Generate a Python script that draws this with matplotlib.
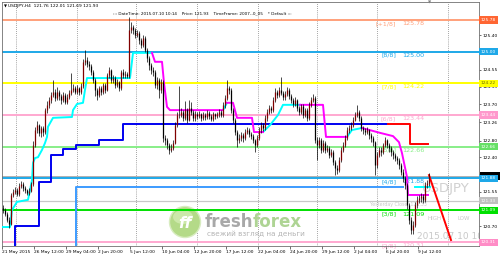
import matplotlib
matplotlib.use("Agg")
import matplotlib.pyplot as plt
import matplotlib.transforms as mtransforms
from matplotlib.patches import Ellipse, Rectangle
import numpy as np

# ---- price data (USDJPY H4) ----
first_open = 121.15
closes = [
    121.10, 121.00, 120.86, 120.75, 121.47, 121.54, 121.59, 121.49, 121.69, 121.74,
    121.64, 121.59, 121.52, 121.57, 121.74, 122.70, 123.07, 123.19, 123.00, 123.12,
    123.02, 123.56, 123.69, 123.81, 123.93, 124.01, 123.86, 124.01, 123.91, 123.81,
    123.93, 123.76, 123.88, 123.98, 124.06, 124.10, 124.01, 124.10, 124.01, 124.15,
    124.74, 124.79, 124.69, 124.65, 124.50, 124.30, 124.06, 123.93, 124.10, 124.01,
    124.18, 124.06, 124.42, 124.55, 124.30, 124.35, 124.18, 124.25, 124.10, 124.50,
    124.42, 124.45, 124.40, 125.53, 125.61, 125.53, 125.41, 125.46, 125.29, 125.17,
    125.34, 125.04, 124.84, 124.67, 124.55, 124.50, 124.18, 124.30, 124.06, 124.25,
    122.87, 122.82, 122.70, 122.58, 122.63, 122.75, 123.19, 123.44, 123.44, 123.51,
    123.37, 123.56, 123.32, 123.61, 123.51, 123.37, 123.46, 123.41, 123.46, 123.37,
    123.44, 123.39, 123.49, 123.41, 123.34, 123.46, 123.41, 123.46, 123.51, 123.44,
    123.69, 123.86, 124.10, 124.06, 123.56, 123.32, 123.02, 122.82, 122.87, 122.95,
    122.87, 123.02, 123.07, 122.97, 122.92, 122.82, 122.70, 122.87, 123.07, 123.19,
    123.12, 123.37, 123.51, 123.61, 123.56, 123.81, 124.01, 123.93, 124.06, 123.98,
    123.88, 123.96, 124.06, 123.91, 123.81, 123.71, 123.81, 123.61, 123.51, 123.66,
    123.44, 123.56, 123.37, 123.69, 123.81, 123.86, 122.82, 122.70, 122.82, 122.58,
    122.75, 122.58, 122.63, 122.45, 122.53, 122.28, 122.14, 122.09, 122.33, 122.58,
    122.70, 122.87, 123.07, 123.12, 123.19, 123.32, 123.44, 123.51, 123.37, 123.12,
    123.07, 123.02, 123.07, 122.95, 122.87, 122.77, 122.21, 122.45, 122.58, 122.53,
    122.70, 122.82, 122.70, 122.63, 122.53, 122.45, 122.38, 122.33, 122.21, 122.04,
    121.89, 121.71, 121.22, 120.86, 120.61, 120.73, 121.22, 121.35, 121.39, 121.44,
    121.35, 121.71, 121.76, 121.93]
highs = [
    121.22, 121.14, 121.05, 120.92, 121.52, 121.62, 121.66, 121.64, 121.76, 121.82,
    121.78, 121.68, 121.62, 121.63, 121.80, 122.80, 123.15, 123.28, 123.22, 123.18,
    123.16, 123.62, 123.78, 123.88, 124.00, 124.30, 124.08, 124.12, 124.06, 123.95,
    124.00, 123.98, 123.95, 124.05, 124.47, 124.20, 124.15, 124.18, 124.14, 124.24,
    124.82, 125.04, 124.86, 124.76, 124.70, 124.55, 124.35, 124.10, 124.16, 124.15,
    124.24, 124.22, 124.48, 124.62, 124.58, 124.42, 124.40, 124.32, 124.28, 124.56,
    124.58, 124.52, 124.50, 125.85, 125.72, 125.66, 125.58, 125.54, 125.50, 125.33,
    125.40, 125.38, 125.08, 124.90, 124.72, 124.62, 124.54, 124.38, 124.34, 124.32,
    124.30, 122.95, 122.88, 122.76, 122.72, 122.82, 123.26, 123.52, 124.15, 123.60,
    123.56, 123.78, 123.62, 123.80, 123.76, 123.56, 123.54, 123.52, 123.54, 123.50,
    123.52, 123.50, 123.56, 123.54, 123.46, 123.52, 123.50, 123.52, 123.58, 123.56,
    123.75, 123.94, 124.30, 124.16, 124.10, 123.60, 123.36, 123.08, 122.96, 123.02,
    123.00, 123.10, 123.14, 123.12, 123.02, 122.96, 122.86, 122.94, 123.14, 123.26,
    123.24, 123.44, 123.58, 123.68, 123.66, 123.88, 124.10, 124.06, 124.14, 124.37,
    124.02, 124.02, 124.12, 124.10, 123.95, 123.85, 123.88, 123.84, 123.66, 123.72,
    123.70, 123.62, 123.60, 123.76, 123.88, 123.96, 123.90, 122.90, 122.90, 122.88,
    122.82, 122.80, 122.70, 122.68, 122.60, 122.58, 122.32, 122.20, 122.40, 122.64,
    122.78, 122.94, 123.14, 123.20, 123.26, 123.40, 123.52, 123.69, 123.56, 123.42,
    123.18, 123.12, 123.14, 123.10, 123.00, 122.92, 122.80, 122.52, 122.66, 122.66,
    122.76, 122.90, 122.86, 122.76, 122.68, 122.58, 122.50, 122.44, 122.38, 122.26,
    122.10, 121.94, 121.76, 121.28, 120.92, 120.84, 121.30, 121.44, 121.48, 121.52,
    121.50, 121.78, 121.84, 122.01]
lows = [
    121.02, 120.94, 120.80, 120.66, 120.72, 121.42, 121.50, 121.44, 121.45, 121.65,
    121.58, 121.52, 121.46, 121.48, 121.54, 121.70, 122.66, 123.00, 122.92, 122.90,
    122.93, 122.98, 123.50, 123.62, 123.74, 123.88, 123.78, 123.80, 123.80, 123.72,
    123.76, 123.70, 123.72, 123.84, 123.94, 124.00, 123.95, 123.96, 123.92, 123.96,
    124.10, 124.68, 124.62, 124.56, 124.42, 124.22, 123.90, 123.81, 123.88, 123.92,
    123.95, 123.98, 124.02, 124.36, 124.24, 124.22, 124.10, 124.12, 124.02, 124.06,
    124.36, 124.36, 124.34, 124.36, 125.46, 125.44, 125.34, 125.36, 125.20, 125.08,
    125.12, 124.98, 124.74, 124.56, 124.46, 124.40, 124.10, 124.08, 123.86, 123.98,
    122.78, 122.70, 122.60, 122.48, 122.52, 122.58, 122.72, 123.14, 123.36, 123.38,
    123.28, 123.32, 123.24, 123.28, 123.44, 123.28, 123.30, 123.34, 123.36, 123.30,
    123.32, 123.32, 123.34, 123.35, 123.28, 123.30, 123.35, 123.36, 123.40, 123.38,
    123.40, 123.62, 123.80, 123.95, 123.48, 123.24, 122.94, 122.65, 122.76, 122.80,
    122.78, 122.82, 122.96, 122.90, 122.84, 122.74, 122.53, 122.64, 122.82, 123.00,
    123.04, 123.08, 123.30, 123.46, 123.48, 123.52, 123.76, 123.86, 123.88, 123.92,
    123.80, 123.82, 123.90, 123.84, 123.74, 123.64, 123.66, 123.54, 123.44, 123.46,
    123.36, 123.38, 123.28, 123.32, 123.64, 123.76, 122.74, 122.33, 122.62, 122.50,
    122.52, 122.50, 122.52, 122.38, 122.40, 122.20, 121.96, 121.98, 122.04, 122.28,
    122.52, 122.64, 122.82, 123.00, 123.06, 123.14, 123.28, 123.38, 123.30, 123.04,
    122.98, 122.94, 122.96, 122.86, 122.78, 122.68, 121.96, 122.14, 122.40, 122.44,
    122.48, 122.64, 122.62, 122.54, 122.44, 122.36, 122.30, 122.24, 122.12, 121.96,
    121.80, 121.62, 121.12, 120.76, 120.50, 120.52, 120.68, 121.16, 121.28, 121.30,
    121.26, 121.30, 121.64, 121.69]

time_labels = ["21 May 2015", "26 May 12:00", "29 May 04:00", "2 Jun 20:00",
               "5 Jun 12:00", "10 Jun 04:00", "12 Jun 20:00", "17 Jun 12:00",
               "22 Jun 04:00", "24 Jun 20:00", "29 Jun 12:00", "2 Jul 04:00",
               "6 Jul 20:00", "9 Jul 12:00"]
label_bars = [-0.5, 15.5, 31.5, 47.5, 63.5, 79.5, 95.5, 111.5,
              127.5, 143.5, 159.5, 175.5, 191.5, 207.5]
week_bars = [6.5, 37, 66.5, 97, 127.5, 157, 187, 222.5]

# tick values; 124.97 and 121.98 sit under price boxes, so they get no text
price_ticks = [125.40, 124.97, 124.55, 124.13, 123.70, 123.26, 122.80,
               122.40, 121.98, 121.55, 121.13, 120.70]
hidden_ticks = [124.97, 121.98]

# murrey math levels
levels = [125.78, 125.00, 124.22, 123.44, 122.66, 121.88, 121.09, 120.31]
level_names = ["[+1/8]", "[8/8]", "[7/8]", "[6/8]", "[5/8]", "[4/8]", "[3/8]", "[2/8]"]
level_colors = ["#FFA07A", "#1EA8E8", "#FFFF00", "#FFA8D0",
                "#88EE88", "#1EA8E8", "#00E000", "#FFA8D0"]

yesterday_close = 121.33
bid = 121.93

# step indicators
blue_x = [6, 6, 18, 24, 30, 36.5, 48, 60, 192.5]
blue_y = [120.0, 120.71, 121.79, 122.46, 122.60, 122.70, 122.82, 123.22, 123.22]
red_x = [192.5, 203.5, 212.5]
red_y = [123.22, 122.72, 122.72]
lblue_x = [36.5, 36.5, 200]
lblue_y = [120.0, 121.67, 121.67]

cyan_parts = [
    ([-0.5, 3.5, 4.5, 7, 12.5, 13.5, 14.5, 15, 16, 17.5, 19.5, 21, 22, 22.5, 25,
      34.5, 35, 37, 40, 41, 42, 63.5, 65, 74.5],
     [120.68, 120.68, 121.10, 121.30, 121.35, 121.59, 121.84, 122.26, 122.38, 122.40,
      122.58, 122.75, 122.90, 123.15, 123.37, 123.39, 123.56, 123.71, 123.74, 124.06,
      124.35, 124.35, 124.97, 124.97]),
    ([110, 112], [123.56, 123.74]),
    ([130, 133.5, 137.5, 140, 148.5], [123.02, 123.19, 123.44, 123.69, 123.69]),
    ([172, 174.5, 179.5], [122.90, 123.07, 123.12]),
    ([206, 213.5], [121.66, 121.66]),
]
magenta_parts = [
    ([74.5, 76, 79.5, 80.5, 82, 83.5, 110],
     [124.97, 124.75, 124.75, 124.23, 123.64, 123.56, 123.56]),
    ([112, 115, 117, 124.5, 125.5, 130], [123.74, 123.74, 123.37, 123.37, 123.02, 123.02]),
    ([148.5, 160, 161.5, 172], [123.69, 123.69, 122.90, 122.90]),
    ([179.5, 188.5, 195, 198, 199.5, 202, 202.5, 212.5],
     [123.12, 123.00, 122.92, 122.77, 122.50, 121.91, 121.47, 121.47]),
]
forecast_x = [213, 224]
forecast_y = [121.96, 120.36]

box_labels = [(125.78, "#FF6633", "white"), (125.00, "#1EA8E8", "white"),
              (124.22, "#FFFF00", "#707000"), (123.44, "#FF99CC", "white"),
              (122.66, "#66E066", "white"), (121.88, "#1EA8E8", "white"),
              (121.33, "#C0C0C0", "white"), (121.09, "#00E000", "white"),
              (120.31, "#FF8CC6", "white")]

# ---- figure ----
fig = plt.figure(figsize=(5.0, 2.57), dpi=100)
fig.patch.set_facecolor("white")
ax = fig.add_axes([2 / 500, 11 / 257, 477 / 500, 244 / 257])
ax.set_xlim(-0.5, 238)
ax.set_ylim(120.213, 126.223)

for s in ax.spines.values():
    s.set_color("#707070")
    s.set_linewidth(0.6)

ax.yaxis.tick_right()
ax.set_yticks(price_ticks)
ax.set_yticklabels(["" if p in hidden_ticks else f"{p:.2f}" for p in price_ticks])
ax.tick_params(axis="y", labelsize=3.2, length=1.5, width=0.4, pad=1)
ax.set_xticks(label_bars)
ax.set_xticklabels(time_labels, ha="left")
ax.tick_params(axis="x", labelsize=3.2, length=2, width=0.4, pad=1)

for wb in week_bars:
    ax.axvline(wb, color="#505050", lw=0.5, ls=(0, (1, 2)), zorder=1)

# watermark
ax.add_patch(Ellipse((185 / 500, 1 - 222 / 257), 31 / 500, 31 / 257,
                     transform=fig.transFigure, facecolor="#B4DA88",
                     edgecolor="#D8ECC0", lw=1, zorder=1))
ax.add_patch(Ellipse((183 / 500, 1 - 217 / 257), 20 / 500, 14 / 257,
                     transform=fig.transFigure, facecolor="#CCE8AA",
                     edgecolor="none", zorder=1))
fig.text(185 / 500, 1 - 223 / 257, "ff", color="white", fontsize=11,
         fontweight="bold", style="italic", ha="center", va="center", zorder=1)
fig.text(205 / 500, 1 - 222 / 257, "fresh", color="#A8A8A8", fontsize=12,
         fontweight="bold", va="center")
fig.text(253 / 500, 1 - 222 / 257, "forex", color="#AED494", fontsize=12,
         fontweight="bold", va="center")
fig.text(207 / 500, 1 - 234 / 257, "свежий взгляд на деньги", color="#B4B4B4",
         fontsize=5.2, va="center")

# levels
for lv, nm, col in zip(levels, level_names, level_colors):
    ax.axhline(lv, color=col, lw=1.4, zorder=2)
    ax.text(196.5, lv - 0.09, nm, color=col, fontsize=4.6, ha="right",
            va="center", zorder=2)
    ax.text(199.5, lv - 0.09, f"{lv:.2f}", color=col, fontsize=4.6,
            ha="left", va="center", zorder=2)
ax.axhline(yesterday_close, color="#C8C8C8", lw=0.9, zorder=2)
ax.axhline(bid, color="#B0B0B0", lw=0.7, zorder=2)

# text overlays
ax.text(221.5, 121.62, "USDJPY", color="#D0D0D0", fontsize=9.5, ha="center",
        va="center", zorder=2)
ax.text(183.5, 121.24, "Yesterday Close  121.33", color="#C8C8C8", fontsize=3.4,
        ha="left", va="center", zorder=2)
ax.text(215.75, 120.88, "HIGH", color="#C8C8C8", fontsize=4, ha="center",
        va="center", zorder=2)
ax.text(230.25, 120.88, "LOW", color="#C8C8C8", fontsize=4, ha="center",
        va="center", zorder=2)
ax.text(207, 120.44, "2015.07.10 10:14", color="#C8C8C8", fontsize=6.5,
        ha="left", va="center", zorder=2, clip_on=True)

# indicators
ax.plot(lblue_x, lblue_y, drawstyle="steps-post", color="#3C9BFF", lw=1.4, zorder=3)
ax.plot(blue_x, blue_y, drawstyle="steps-post", color="#0000F0", lw=1.4, zorder=3)
ax.plot(red_x, red_y, drawstyle="steps-post", color="#FF0000", lw=1.4, zorder=3)
for xs, ys in cyan_parts:
    ax.plot(xs, ys, color="#00FFFF", lw=1.4, zorder=3)
for xs, ys in magenta_parts:
    ax.plot(xs, ys, color="#FF00FF", lw=1.4, zorder=3)
ax.plot(forecast_x, forecast_y, color="#FF0000", lw=1.4, zorder=3)

# candles
idx = np.arange(len(closes))
c = np.array(closes)
o = np.array([first_open] + closes[:-1])
up = c >= o
ax.vlines(idx, lows, highs, color="black", lw=0.5, zorder=5)
ax.vlines(idx[up], o[up], c[up], color="#800000", lw=0.9, zorder=6)
ax.vlines(idx[~up], c[~up], o[~up], color="black", lw=0.9, zorder=6)

# price boxes on the right axis
box_tr = mtransforms.blended_transform_factory(fig.transFigure, ax.transData)
# bid marker: black box mostly hidden behind the 121.88 box
ax.add_patch(Rectangle((480 / 500, bid - 0.1), 20 / 500, 0.2, transform=box_tr,
                       facecolor="black", edgecolor="none", clip_on=False, zorder=9))
for p, fc, tc in box_labels:
    ax.text(481 / 500, p, f"{p:.2f}", transform=box_tr, fontsize=3.2, color=tc,
            ha="left", va="center", clip_on=False, zorder=10,
            bbox=dict(boxstyle="square,pad=0.35", fc=fc, ec="none"))

# header
fig.text(4 / 500, 1 - 6 / 257, "\u25bc", fontsize=2.8, va="center")
fig.text(8 / 500, 1 - 6 / 257, "USDJPY,H4  121.76 122.01 121.69 121.93",
         fontsize=3.2, va="center")
fig.text(113 / 500, 1 - 13 / 257,
         "::: DateTime: 2015.07.10 10:14    Price: 121.93    TimeFrame: 2007--0_05    * Default :::",
         fontsize=3.0, va="center")
fig.text(430 / 500, 1 - 3 / 257, "\u25bc", fontsize=3, color="#808080",
         ha="center", va="center")

fig.savefig("out.png", dpi=100)
